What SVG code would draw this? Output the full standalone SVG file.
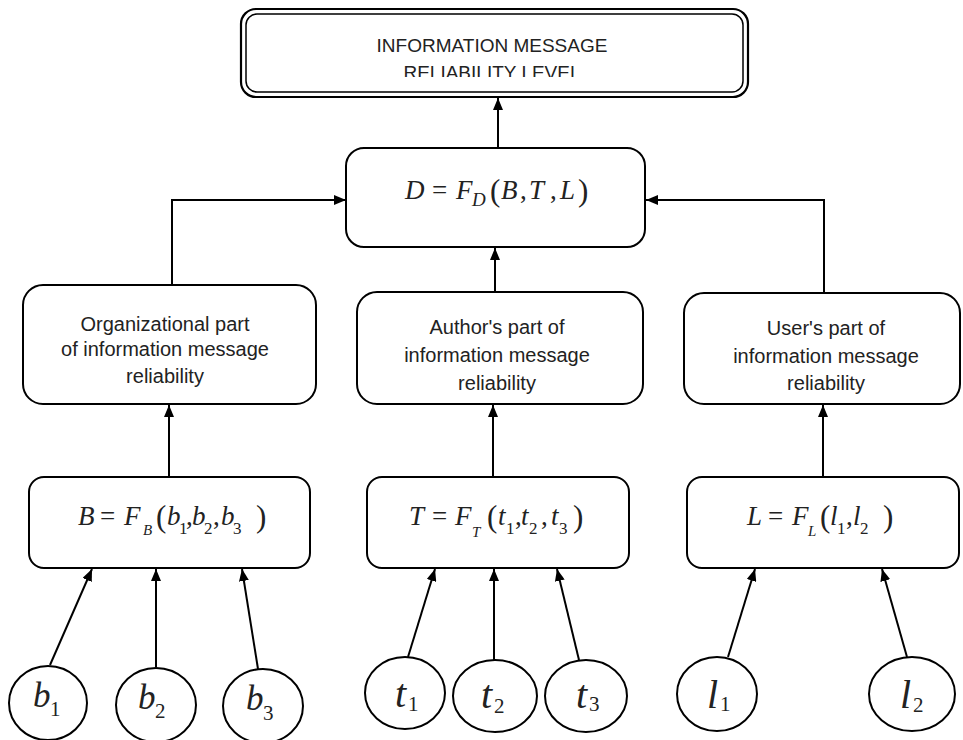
<svg xmlns="http://www.w3.org/2000/svg" width="963" height="740" viewBox="0 0 963 740">
<style>
.box{fill:#fff;stroke:#000;stroke-width:2}
.con{fill:none;stroke:#000;stroke-width:2}
.t{font-family:"Liberation Sans",Arial,sans-serif;font-size:20px;fill:#222;text-anchor:middle}
.tt{font-family:"Liberation Sans",Arial,sans-serif;font-size:19px;fill:#222;text-anchor:middle}
.i{font-family:"Liberation Serif","Times New Roman",serif;font-style:italic;font-size:27px;fill:#222}
.u{font-family:"Liberation Serif","Times New Roman",serif;font-size:27px;fill:#222}
.p{font-family:"Liberation Serif","Times New Roman",serif;font-size:31px;fill:#222}
.s{font-family:"Liberation Serif","Times New Roman",serif;font-size:17px;fill:#222}
.si{font-family:"Liberation Serif","Times New Roman",serif;font-style:italic;font-size:15px;fill:#222}
.ci{font-family:"Liberation Serif","Times New Roman",serif;font-style:italic;font-size:35px;fill:#222}
.cs{font-family:"Liberation Serif","Times New Roman",serif;font-size:21px;fill:#222}
</style>
<defs>
<marker id="ah" viewBox="0 0 12 10" refX="12" refY="5" markerWidth="12" markerHeight="10" markerUnits="userSpaceOnUse" orient="auto">
<path d="M0,0 L12,5 L0,10 z" fill="#000"/>
</marker>
<clipPath id="clipTop"><rect x="241" y="9" width="507" height="68"/></clipPath>
</defs>

<g id="connectors">
<path class="con" d="M498,148 V98" marker-end="url(#ah)"/>
<path class="con" d="M172,285 V200 H346" marker-end="url(#ah)"/>
<path class="con" d="M824,293 V200 H646" marker-end="url(#ah)"/>
<path class="con" d="M495,292 V248" marker-end="url(#ah)"/>
<path class="con" d="M169,477 V405" marker-end="url(#ah)"/>
<path class="con" d="M493,477 V405" marker-end="url(#ah)"/>
<path class="con" d="M823,477 V405" marker-end="url(#ah)"/>
<path class="con" d="M50,665 L92,569" marker-end="url(#ah)"/>
<path class="con" d="M156,667 V569" marker-end="url(#ah)"/>
<path class="con" d="M258,669 L242,569" marker-end="url(#ah)"/>
<path class="con" d="M408,657 L435,569" marker-end="url(#ah)"/>
<path class="con" d="M494,660 V569" marker-end="url(#ah)"/>
<path class="con" d="M579,660 L557,569" marker-end="url(#ah)"/>
<path class="con" d="M728,657 L755,569" marker-end="url(#ah)"/>
<path class="con" d="M907,657 L882,569" marker-end="url(#ah)"/>
</g>

<g id="top">
<rect x="241" y="9" width="507" height="88" rx="15" fill="#fff" stroke="#000" stroke-width="2.2"/>
<rect x="246" y="14" width="497" height="78" rx="11" fill="none" stroke="#000" stroke-width="1.5"/>
<text class="tt" x="492" y="52">INFORMATION MESSAGE</text>
<text class="tt" x="492" y="79" clip-path="url(#clipTop)">RELIABILITY LEVEL</text>
</g>

<g id="D">
<rect class="box" x="346" y="148" width="299" height="99" rx="18"/>
<text class="i" x="405" y="199">D</text>
<text class="u" x="432" y="199">=</text>
<text class="i" x="456" y="199">F</text>
<text class="i" x="472" y="206" style="font-size:19px">D</text>
<text class="p" x="490" y="201">(</text>
<text class="i" x="501" y="199">B</text>
<text class="u" x="520" y="199">,</text>
<text class="i" x="529" y="199">T</text>
<text class="u" x="550" y="199">,</text>
<text class="i" x="560" y="199">L</text>
<text class="p" x="578" y="201">)</text>
</g>

<g id="org">
<rect class="box" x="23" y="285" width="293" height="119" rx="20"/>
<text class="t" x="165" y="331">Organizational part</text>
<text class="t" x="165" y="356">of information message</text>
<text class="t" x="165" y="383">reliability</text>
</g>

<g id="author">
<rect class="box" x="357" y="292" width="286" height="112" rx="20"/>
<text class="t" x="497" y="334">Author's part of</text>
<text class="t" x="497" y="362">information message</text>
<text class="t" x="497" y="390">reliability</text>
</g>

<g id="user">
<rect class="box" x="684" y="293" width="276" height="111" rx="20"/>
<text class="t" x="826" y="335">User's part of</text>
<text class="t" x="826" y="363">information message</text>
<text class="t" x="826" y="390">reliability</text>
</g>

<g id="B">
<rect class="box" x="29" y="477" width="281" height="91" rx="15"/>
<text class="i" x="78" y="525">B</text>
<text class="u" x="100" y="525">=</text>
<text class="i" x="124" y="525">F</text>
<text class="si" x="143" y="535">B</text>
<text class="p" x="156" y="527">(</text>
<text class="i" x="167" y="525">b</text>
<text class="s" x="179" y="534">1</text>
<text class="u" x="186" y="525">,</text>
<text class="i" x="192" y="525">b</text>
<text class="s" x="204" y="534">2</text>
<text class="u" x="213" y="525">,</text>
<text class="i" x="221" y="525">b</text>
<text class="s" x="233" y="534">3</text>
<text class="p" x="256" y="527">)</text>
</g>

<g id="T">
<rect class="box" x="367" y="477" width="262" height="91" rx="15"/>
<text class="i" x="409" y="525">T</text>
<text class="u" x="432" y="525">=</text>
<text class="i" x="455" y="525">F</text>
<text class="si" x="472" y="537">T</text>
<text class="p" x="487" y="527">(</text>
<text class="i" x="498" y="525">t</text>
<text class="s" x="506" y="534">1</text>
<text class="u" x="515" y="525">,</text>
<text class="i" x="521" y="525">t</text>
<text class="s" x="529" y="534">2</text>
<text class="u" x="541" y="525">,</text>
<text class="i" x="551" y="525">t</text>
<text class="s" x="559" y="534">3</text>
<text class="p" x="573" y="527">)</text>
</g>

<g id="L">
<rect class="box" x="687" y="477" width="272" height="91" rx="15"/>
<text class="i" x="747" y="525">L</text>
<text class="u" x="768" y="525">=</text>
<text class="i" x="792" y="525">F</text>
<text class="si" x="808" y="536">L</text>
<text class="p" x="820" y="527">(</text>
<text class="i" x="830" y="525">l</text>
<text class="s" x="837" y="534">1</text>
<text class="u" x="846" y="525">,</text>
<text class="i" x="853" y="525">l</text>
<text class="s" x="860" y="534">2</text>
<text class="p" x="883" y="527">)</text>
</g>

<g id="b1"><ellipse class="box" cx="48" cy="703" rx="39" ry="37"/><text class="ci" x="33" y="707">b</text><text class="cs" x="50" y="716">1</text></g>
<g id="b2"><ellipse class="box" cx="156" cy="705" rx="40" ry="37"/><text class="ci" x="138" y="709">b</text><text class="cs" x="155" y="718">2</text></g>
<g id="b3"><ellipse class="box" cx="263" cy="706" rx="40" ry="37"/><text class="ci" x="246" y="710">b</text><text class="cs" x="263" y="720">3</text></g>
<g id="t1"><ellipse class="box" cx="405" cy="693" rx="40" ry="36"/><text class="ci" x="395" y="707" style="font-size:40px">t</text><text class="cs" x="408" y="711">1</text></g>
<g id="t2"><ellipse class="box" cx="495" cy="696" rx="42" ry="36"/><text class="ci" x="481" y="708" style="font-size:40px">t</text><text class="cs" x="494" y="713">2</text></g>
<g id="t3"><ellipse class="box" cx="586" cy="696" rx="41" ry="36"/><text class="ci" x="576" y="708" style="font-size:40px">t</text><text class="cs" x="589" y="711">3</text></g>
<g id="l1"><ellipse class="box" cx="717" cy="694" rx="40" ry="37"/><text class="ci" x="707" y="708" style="font-size:40px">l</text><text class="cs" x="720" y="711">1</text></g>
<g id="l2"><ellipse class="box" cx="912" cy="694" rx="43" ry="37"/><text class="ci" x="900" y="708" style="font-size:40px">l</text><text class="cs" x="913" y="712">2</text></g>
</svg>
